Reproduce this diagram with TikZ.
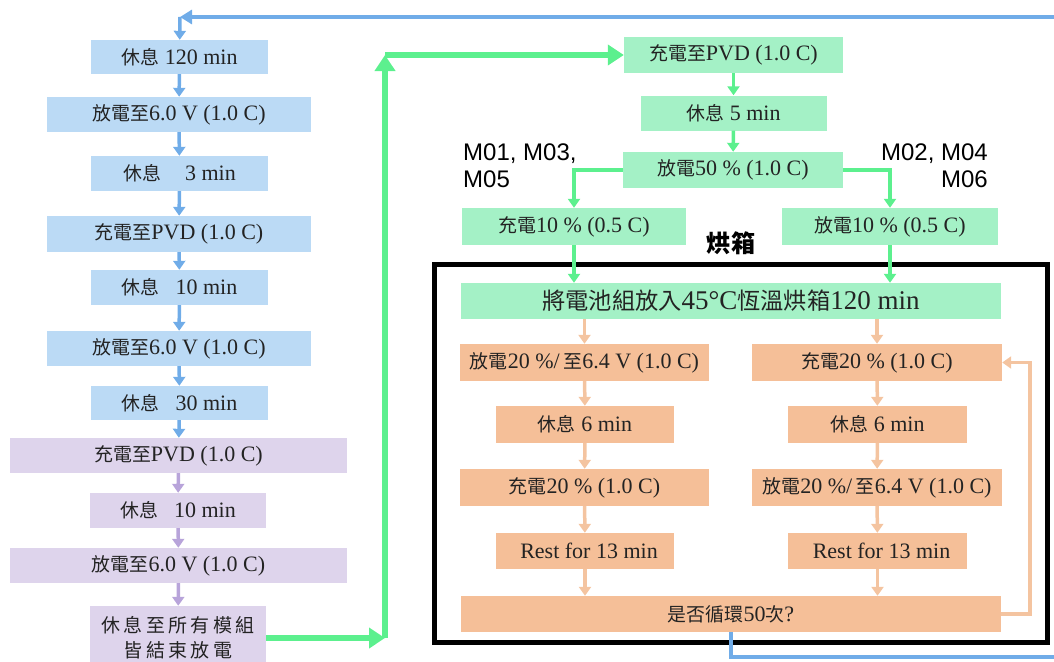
\documentclass[tikz,border=0pt]{standalone}
\usepackage{fontspec}
\setmainfont{Liberation Serif}
\newfontfamily\cjk[Scale=0.86]{Noto Sans CJK TC}
\newfontfamily\cjkw[LetterSpace=18]{Noto Sans CJK TC}
\newfontfamily\arialf{Liberation Sans}
\newcommand\zh[1]{{\cjk #1}}
\usetikzlibrary{arrows.meta}
\definecolor{bluebox}{RGB}{187,218,245}
\definecolor{bluearr}{RGB}{112,172,232}
\definecolor{purbox}{RGB}{222,212,236}
\definecolor{purarr}{RGB}{184,164,218}
\definecolor{grnbox}{RGB}{164,241,198}
\definecolor{grnarr}{RGB}{92,240,142}
\definecolor{orgbox}{RGB}{245,191,152}
\definecolor{orgarr}{RGB}{244,196,160}
\definecolor{txt}{RGB}{35,35,35}
\tikzset{
  boxbase/.style={inner sep=0pt, text=txt, font=\fontsize{22}{25}\selectfont, align=center},
  bbox/.style={boxbase, fill=bluebox},
  pbox/.style={boxbase, fill=purbox},
  gbox/.style={boxbase, fill=grnbox},
  obox/.style={boxbase, fill=orgbox},
  sarr/.style={line width=3.5pt, -{Triangle[width=12pt,length=9pt]}},
  barr/.style={sarr, draw=bluearr},
  parr/.style={sarr, draw=purarr},
  garr/.style={sarr, draw=grnarr},
  oarr/.style={sarr, draw=orgarr},
  bigg/.style={line width=6pt, draw=grnarr, -{Triangle[width=20pt,length=16pt]}},
  mlabel/.style={font=\arialf\fontsize{24}{27}\selectfont, text=black, inner sep=0pt},
}
\begin{document}
\begin{tikzpicture}[x=1pt,y=-1pt]
\useasboundingbox (0,0) rectangle (1054,661);
% left column
\node[bbox, minimum width=177pt, minimum height=34pt] (b1) at (179.5,57) {\zh{休息} 120 min};
\node[bbox, minimum width=264pt, minimum height=35pt] (b2) at (179,114.5) {\zh{放電至}6.0 V (1.0 C)};
\node[bbox, minimum width=177pt, minimum height=35pt] (b3) at (179.5,173.5) {\zh{休息}\hspace{24pt}3 min};
\node[bbox, minimum width=264pt, minimum height=36pt] (b4) at (179,234) {\zh{充電至}PVD (1.0 C)};
\node[bbox, minimum width=177pt, minimum height=35pt] (b5) at (179.5,287.5) {\zh{休息}\hspace{16pt}10 min};
\node[bbox, minimum width=264pt, minimum height=35pt] (b6) at (179,348.5) {\zh{放電至}6.0 V (1.0 C)};
\node[bbox, minimum width=177pt, minimum height=34pt] (b7) at (179.5,403) {\zh{休息}\hspace{16pt}30 min};
\node[pbox, minimum width=337pt, minimum height=35pt] (p1) at (178.5,455.5) {\zh{充電至}PVD (1.0 C)};
\node[pbox, minimum width=176pt, minimum height=35pt] (p2) at (178,510.5) {\zh{休息}\hspace{16pt}10 min};
\node[pbox, minimum width=337pt, minimum height=35pt] (p3) at (178.5,565.5) {\zh{放電至}6.0 V (1.0 C)};
\node[pbox, minimum width=176pt, minimum height=64pt, font=\cjkw\fontsize{19}{25}\selectfont] (p4) at (178,638) {休息至所有模組\\皆結束放電};
\draw[barr] (b1) -- (b2);
\draw[barr] (b2) -- (b3);
\draw[barr] (b3) -- (b4);
\draw[barr] (b4) -- (b5);
\draw[barr] (b5) -- (b6);
\draw[barr] (b6) -- (b7);
\draw[barr] (b7) -- (p1);
\draw[parr] (p1) -- (p2);
\draw[parr] (p2) -- (p3);
\draw[parr] (p3) -- (p4);
% right upper green part
\node[gbox, minimum width=219pt, minimum height=36pt] (g1) at (733.5,55) {\zh{充電至}PVD (1.0 C)};
\node[gbox, minimum width=186pt, minimum height=35pt] (g2) at (733.5,113) {\zh{休息} 5 min};
\node[gbox, minimum width=220pt, minimum height=36pt] (g3) at (733,170) {\zh{放電}50 \% (1.0 C)};
\node[gbox, minimum width=224pt, minimum height=37pt] (g4) at (574,226.5) {\zh{充電}10 \% (0.5 C)};
\node[gbox, minimum width=216pt, minimum height=37pt] (g5) at (890,226.5) {\zh{放電}10 \% (0.5 C)};
\node[mlabel, anchor=north west, align=left] (m1) at (463,144) {M01, M03,\\M05};
\node[mlabel, anchor=north east, align=right] (m2) at (988,144) {M02, M04\\M06};
\node[font=\cjk\bfseries\fontsize{28}{30}\selectfont, text=black, inner sep=0pt] (oven) at (731,243) {烘箱};
\draw[garr] (g1) -- (g2);
\draw[garr] (g2) -- (g3);
\draw[garr] (g3.west) -| (g4.north);
\draw[garr] (g3.east) -| (g5.north);
% oven
\draw[line width=5pt, black] (434.5,264.5) rectangle (1047.5,642.5);
\node[gbox, minimum width=540pt, minimum height=36pt, font=\fontsize{27}{29}\selectfont] (g6) at (731,301) {\zh{將電池組放入}45°C\zh{恆溫烘箱}120 min};
\draw[garr] (g4.south) -- (g4.south |- g6.north);
\draw[garr] (g5.south) -- (g5.south |- g6.north);
\node[obox, minimum width=249pt, minimum height=37pt] (o1) at (584.5,362.5) {\zh{放電}20 \%/\,\zh{至}6.4 V (1.0 C)};
\node[obox, minimum width=250pt, minimum height=37pt] (o2) at (877,362.5) {\zh{充電}20 \% (1.0 C)};
\node[obox, minimum width=178pt, minimum height=37pt] (o3) at (585,424.5) {\zh{休息} 6 min};
\node[obox, minimum width=179pt, minimum height=37pt] (o4) at (877.5,424.5) {\zh{休息} 6 min};
\node[obox, minimum width=249pt, minimum height=37pt] (o5) at (584.5,487.5) {\zh{充電}20 \% (1.0 C)};
\node[obox, minimum width=250pt, minimum height=37pt] (o6) at (877,487.5) {\zh{放電}20 \%/\,\zh{至}6.4 V (1.0 C)};
\node[obox, minimum width=178pt, minimum height=36pt] (o7) at (585,551) {\hspace{8pt}Rest for 13 min};
\node[obox, minimum width=179pt, minimum height=36pt] (o8) at (877.5,551) {\hspace{8pt}Rest for 13 min};
\node[obox, minimum width=540pt, minimum height=36pt] (o9) at (731,614) {\zh{是否循環}50\zh{次}?};
\draw[oarr] (g6.south -| o1) -- (o1);
\draw[oarr] (g6.south -| o2) -- (o2);
\draw[oarr] (o1) -- (o3);
\draw[oarr] (o2) -- (o4);
\draw[oarr] (o3) -- (o5);
\draw[oarr] (o4) -- (o6);
\draw[oarr] (o5) -- (o7);
\draw[oarr] (o6) -- (o8);
\draw[oarr] (o7) -- (o7 |- o9.north);
\draw[oarr] (o8) -- (o8 |- o9.north);
\coordinate (lp) at (1030,614);
\draw[line width=3.5pt, draw=orgarr, -{Triangle[width=12pt,length=9pt]}] (o9.east) -- (lp) |- (o2.east);
% big green return
\coordinate (ga) at (385,638);
\coordinate (gb) at (385,55);
\draw[bigg] (p4.east |- ga) -- (ga);
\draw[bigg] (ga) -- (gb);
\draw[bigg] (gb) -- (g1.west);
% blue loop back
\coordinate (bl1) at (731,657);
\coordinate (bl2) at (1070,657);
\coordinate (bl3) at (1070,17);
\coordinate (bl4) at (180,17);
\draw[line width=4pt, draw=bluearr, -{Triangle[width=14pt,length=12pt]}] (o9.south -| bl1) -- (bl1) -- (bl2) -- (bl3) -- (bl4);
\draw[barr] (bl4) -- (b1);
\end{tikzpicture}
\end{document}
